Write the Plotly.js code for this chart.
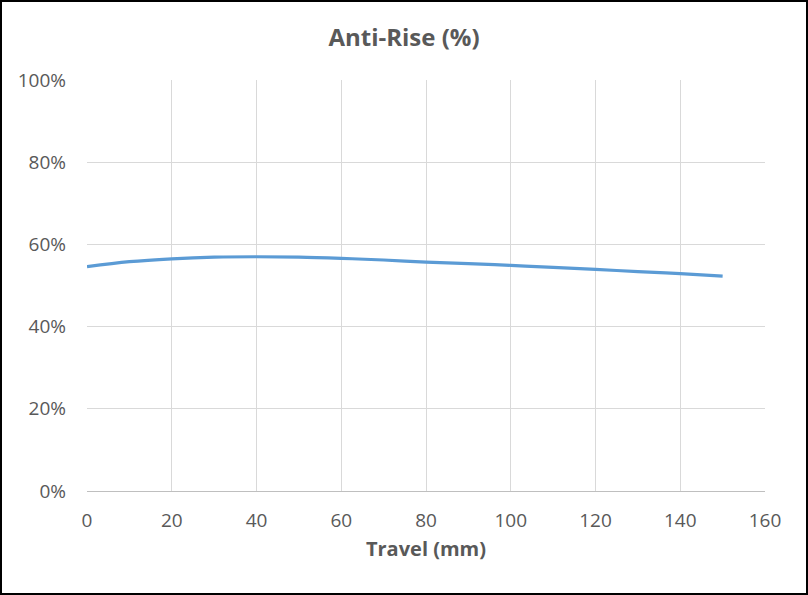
<!DOCTYPE html>
<html>
<head>
<meta charset="utf-8">
<script src="https://cdn.plot.ly/plotly-3.0.1.min.js"></script>
<style>
  html, body { margin: 0; padding: 0; background: #fff; }
  #wrap { position: relative; width: 808px; height: 595px; }
  #chart { width: 808px; height: 595px; }
  #frame { position: absolute; left: 0; top: 0; width: 808px; height: 595px; box-sizing: border-box; border: 2px solid #000; pointer-events: none; }
</style>
</head>
<body>
<div id="wrap"><div id="chart"></div><div id="frame"></div></div>
<script>
const travel = [0, 10, 20, 30, 40, 50, 60, 70, 80, 90, 100, 110, 120, 130, 140, 150];
const antiRise = [0.546, 0.558, 0.565, 0.569, 0.570, 0.569, 0.566, 0.562, 0.557, 0.553, 0.549, 0.544, 0.539, 0.534, 0.529, 0.523];
const xTicks = [0, 20, 40, 60, 80, 100, 120, 140, 160];
const yTicks = [0, 0.2, 0.4, 0.6, 0.8, 1.0];

const fontFam = 'Open Sans, sans-serif';

Plotly.newPlot('chart', [{
  x: travel,
  y: antiRise,
  type: 'scatter',
  mode: 'lines',
  line: { color: '#5b9bd5', width: 3.2, shape: 'spline', smoothing: 1 },
  hoverinfo: 'x+y'
}], {
  width: 808, height: 595,
  margin: { l: 87, r: 43, t: 80, b: 104 },
  paper_bgcolor: '#fff', plot_bgcolor: '#fff',
  showlegend: false,
  title: { text: '<b>Anti-Rise (%)</b>', x: 0.5, xanchor: 'center', y: 0.936, yanchor: 'middle',
           font: { family: fontFam, size: 24, color: '#595959' } },
  xaxis: {
    range: [0, 160], tickvals: xTicks, ticktext: xTicks.map(String),
    showgrid: true, gridcolor: '#d9d9d9', gridwidth: 1,
    showline: true, linecolor: '#bfbfbf', linewidth: 1,
    zeroline: false, ticks: '', ticklen: 0, ticklabelstandoff: 12,
    tickfont: { family: fontFam, size: 19, color: '#595959' },
    title: { text: '<b>Travel (mm)</b>', standoff: 10, font: { family: fontFam, size: 20, color: '#595959' } }
  },
  yaxis: {
    range: [0, 1], tickvals: yTicks, tickformat: '.0%',
    showgrid: true, gridcolor: '#d9d9d9', gridwidth: 1,
    showline: false, zeroline: false, ticks: '', ticklen: 0, ticklabelstandoff: 20,
    tickfont: { family: fontFam, size: 19, color: '#595959' }
  }
}, { displayModeBar: false });
</script>
</body>
</html>
